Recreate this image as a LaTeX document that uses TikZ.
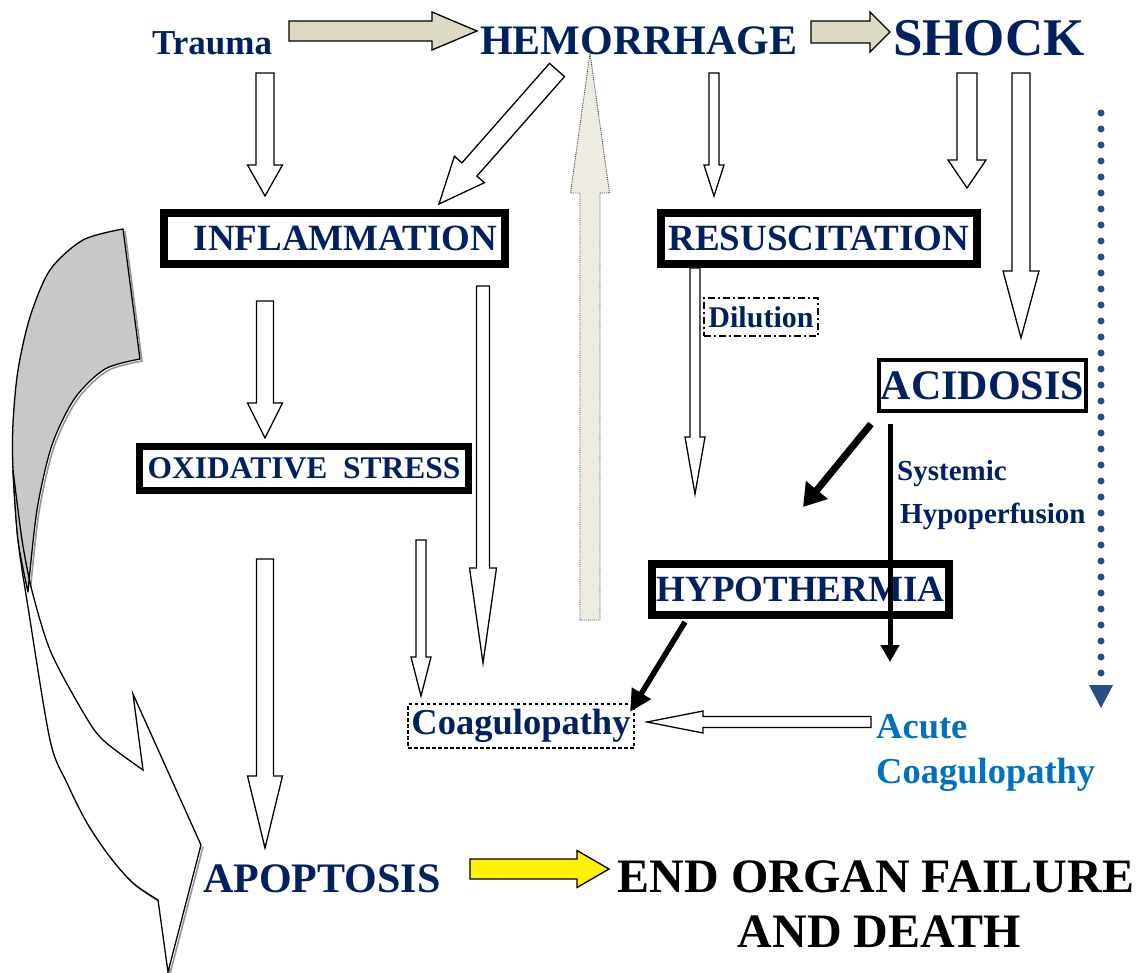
\documentclass[tikz,border=0pt]{standalone}
\usepackage{fontspec}
\setmainfont{Liberation Serif}
\usetikzlibrary{calc,arrows.meta}
\definecolor{navy}{RGB}{0,32,96}
\definecolor{acuteblue}{RGB}{0,112,192}
\definecolor{dotblue}{RGB}{38,78,130}
\definecolor{beigeA}{RGB}{221,217,195}
\definecolor{beigeB}{RGB}{238,236,225}
\definecolor{ribbongray}{RGB}{200,200,200}
\definecolor{shadowgray}{RGB}{150,150,150}
\newcommand\fsz[1]{\fontsize{#1}{#1}\selectfont}
% block arrow: [style]{tail}{tip}{half shaft}{half head}{head length}
\newcommand\blockarr[6][]{%
  \coordinate (bh) at ($(#3)!#6pt!(#2)$);
  \draw[#1] ($(#2)!#4pt!90:(#3)$) -- ($(bh)!#4pt!90:(#3)$) -- ($(bh)!#5pt!90:(#3)$) -- (#3)
     -- ($(bh)!#5pt!-90:(#3)$) -- ($(bh)!#4pt!-90:(#3)$) -- ($(#2)!#4pt!-90:(#3)$) -- cycle;}
\tikzset{
  txt/.style={inner sep=0pt, text=navy},
  bigbox/.style={draw=black, line width=8pt, inner sep=0pt, text=navy},
  dashbox/.style={draw=black, line width=1.3pt, inner sep=0pt, text=navy},
  hollow/.style={draw=black, fill=white, line width=1.3pt, line join=miter},
  beigearr/.style={draw=black, fill=beigeA, line width=1.3pt, line join=miter},
  blk/.style={draw=black, line cap=butt},
  ribline/.style={draw=black, line width=1.3pt, line join=miter},
}
\begin{document}
\begin{tikzpicture}[x=1pt,y=-1pt]
\useasboundingbox (0,0) rectangle (1140,973);
\fill[white] (0,0) rectangle (1140,973);

% ---------- curved twisted ribbon arrow ----------
% shadows
\begin{scope}[shift={(2pt,-2pt)}]
\draw[shadowgray, line width=1.6pt, line join=miter]
  plot[smooth] coordinates {(13,470) (18,540) (28,607) (50,740) (67,783) (87,823) (110,857) (133,883) (158,900)}
  -- (168,972) -- (201,845);
\draw[shadowgray, line width=1.6pt]
  plot[smooth] coordinates {(28,592) (37,510) (52,445) (75,398) (105,369) (140,359)}
  -- (123,229);
\end{scope}
% front (white) face
\filldraw[fill=white, ribline]
  plot[smooth] coordinates {(13,470) (18,540) (28,607) (50,740) (67,783) (87,823) (110,857) (133,883) (158,900)}
  -- (168,972) -- (201,845) -- (133,694) -- (143,770)
  -- plot[smooth] coordinates {(143,770) (103,740) (83,712) (50,650) (30,583) (22,540) (13,470)}
  -- cycle;
% back (grey) face
\filldraw[fill=ribbongray, ribline, line join=round]
  plot[smooth] coordinates {(123,229) (83,240) (50,270) (30,317) (18,370) (13,423) (13,470) (18,540) (28,592)}
  -- plot[smooth] coordinates {(28,592) (37,510) (52,445) (75,398) (105,369) (140,359)}
  -- cycle;
\draw[ribline] plot[smooth] coordinates {(30,583) (22,540) (13,470)};

% ---------- text nodes ----------
\node[txt, anchor=base west, font=\bfseries\fsz{35}] (trauma) at (152,55) {Trauma};
\node[txt, anchor=base west, font=\bfseries\fsz{42}] (hem) at (480,55) {HEMORRHAGE};
\node[txt, anchor=base west, font=\bfseries\fsz{53}] (shock) at (893,56) {SHOCK};

\node[bigbox, minimum width=341pt, minimum height=51pt, font=\bfseries\fsz{37}] (infl) at (334.5,238.5) {\hspace*{22pt}INFLAMMATION};
\node[bigbox, minimum width=316pt, minimum height=51pt, font=\bfseries\fsz{37}] (resus) at (819,238.5) {RESUSCITATION};
\node[bigbox, line width=7pt, minimum width=329pt, minimum height=44pt, font=\bfseries\fsz{31.5}] (oxi) at (304,468.5) {OXIDATIVE\ \ STRESS};
\node[bigbox, minimum width=297pt, minimum height=51pt, font=\bfseries\fsz{37}] (hypo) at (800.5,589.5) {HYPOTHERMIA};
\node[bigbox, line width=4pt, minimum width=207pt, minimum height=51pt, font=\bfseries\fsz{42}] (acid) at (982.5,385.5) {ACIDOSIS};
\node[dashbox, dash pattern=on 3.5pt off 2.5pt, minimum width=226pt, minimum height=44pt, font=\bfseries\fsz{36.5}] (coag) at (521,726) {Coagulopathy};
\node[dashbox, line width=1.2pt, dash pattern=on 7pt off 3pt on 2pt off 3pt, minimum width=114pt, minimum height=38pt, font=\bfseries\fsz{30}] (dil) at (761,317) {Dilution};

\node[txt, anchor=base west, font=\bfseries\fsz{29}] (sys1) at (897,480) {Systemic};
\node[txt, anchor=base west, font=\bfseries\fsz{29}] (sys2) at (900,523) {Hypoperfusion};
\node[txt, text=acuteblue, anchor=base west, font=\bfseries\fsz{36.5}] (acute1) at (876,738) {Acute};
\node[txt, text=acuteblue, anchor=base west, font=\bfseries\fsz{36.5}] (acute2) at (876,783) {Coagulopathy};
\node[txt, anchor=base west, font=\bfseries\fsz{42}] (apop) at (203,892) {APOPTOSIS};
\node[txt, text=black, anchor=base, font=\bfseries\fsz{48}] (end1) at (876,892) {END ORGAN FAILURE};
\node[txt, text=black, anchor=base, font=\bfseries\fsz{48}] (end2) at (879.5,947) {AND DEATH};

% ---------- connector end points ----------
\coordinate (a1s) at (289,31);   \coordinate (a1e) at (477,31);
\coordinate (a2s) at (811,32);   \coordinate (a2e) at (890,32);
\coordinate (a3s) at (265,73);   \coordinate (a3e) at (265,196);
\coordinate (a4s) at (557,70);   \coordinate (a4e) at (439,204);
\coordinate (a5s) at (590,620);  \coordinate (a5e) at (590,53);
\coordinate (a6s) at (714,73);   \coordinate (a6e) at (714,196);
\coordinate (a7s) at (967,73);   \coordinate (a7e) at (967,188);
\coordinate (a8s) at (1021,73);  \coordinate (a8e) at (1021,338);
\coordinate (a9s) at (265,301);  \coordinate (a9e) at (265,438);
\coordinate (a10s) at (265,559); \coordinate (a10e) at (265,848);
\coordinate (a11s) at (483,286); \coordinate (a11e) at (483,663);
\coordinate (a12s) at (421,540); \coordinate (a12e) at (421,696);
\coordinate (a13s) at (695,268); \coordinate (a13e) at (695,494);
\coordinate (a14s) at (871,722); \coordinate (a14e) at (647,722);
\coordinate (a15s) at (470,869); \coordinate (a15e) at (609,869);

% ---------- block arrows ----------
\blockarr[beigearr]{a1s}{a1e}{10}{19}{45}
\blockarr[beigearr]{a2s}{a2e}{11}{20}{20}
\blockarr[hollow]{a3s}{a3e}{9}{17.5}{31}
\blockarr[hollow]{a4s}{a4e}{10}{20}{46}
\blockarr[draw=black!75, fill=beigeB, line width=0.9pt, densely dotted]{a5s}{a5e}{10}{19.5}{140}
\blockarr[hollow]{a6s}{a6e}{5}{10}{31}
\blockarr[hollow]{a7s}{a7e}{10}{19}{28}
\blockarr[hollow]{a8s}{a8e}{9}{18}{67}
\blockarr[hollow]{a9s}{a9e}{8.5}{17.5}{35}
\blockarr[hollow]{a10s}{a10e}{8.5}{17.5}{72}
\blockarr[hollow]{a11s}{a11e}{6.5}{13.5}{95}
\blockarr[hollow]{a12s}{a12e}{5}{10}{39}
\blockarr[hollow]{a13s}{a13e}{5}{10}{57}
\blockarr[hollow]{a14s}{a14e}{5.5}{11}{56}
\blockarr[draw=black, fill=yellow, line width=1.3pt, line join=miter]{a15s}{a15e}{10}{18.5}{32}

% ---------- black line arrows ----------
\coordinate (b1s) at (871,424); \coordinate (b1e) at (803,507);
\coordinate (b2s) at (890,424); \coordinate (b2e) at (890,662);
\coordinate (b3s) at (685,622); \coordinate (b3e) at (630,712);
\draw[blk, line width=7pt, -{Triangle[length=22pt,width=27pt]}] (b1s) -- (b1e);
\draw[blk, line width=5pt, -{Triangle[length=17pt,width=18pt]}] (b2s) -- (b2e);
\draw[blk, line width=5.5pt, -{Triangle[length=22pt,width=21pt]}] (b3s) -- (b3e);

% ---------- dotted blue arrow ----------
\coordinate (d1) at (1101,113); \coordinate (d2) at (1101,674);
\draw[dotblue, line width=7pt, line cap=round, dash pattern=on 0pt off 16pt] (d1) -- (d2);
\fill[dotblue] (1089,685) -- (1113,685) -- (1101,708) -- cycle;
\end{tikzpicture}
\end{document}
